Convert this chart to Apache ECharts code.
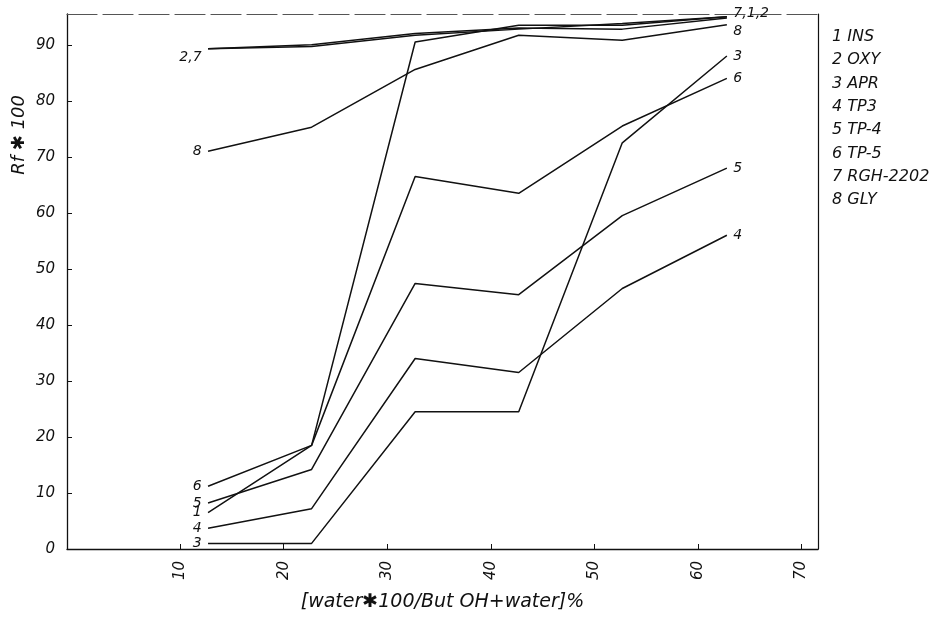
<!DOCTYPE html>
<html>
<head>
<meta charset="utf-8">
<script src="https://cdn.jsdelivr.net/npm/echarts@6/dist/echarts.min.js"></script>
<style>
  html, body { margin: 0; padding: 0; background: #fff; }
  #chart { width: 943px; height: 617px; }
</style>
</head>
<body>
<div id="chart"></div>
<script>
// Water content of the butanol/water eluent, % (x positions of the measured points)
const waterPct = [12.7, 22.7, 32.7, 42.7, 52.7, 62.8];

// Rf * 100 for each compound
const ins  = [6.5, 18.5, 90.5, 93.5, 93.5, 95.0];
const oxy  = [89.3, 90.0, 92.0, 93.0, 92.8, 94.8];
const apr  = [1.0, 1.0, 24.5, 24.5, 72.5, 88.0];
const tp3  = [3.7, 7.2, 34.0, 31.5, 46.5, 56.0];
const tp4  = [8.2, 14.2, 47.4, 45.4, 59.5, 68.0];
const tp5  = [11.2, 18.5, 66.5, 63.5, 75.5, 84.0];
const rgh  = [89.3, 89.7, 91.7, 92.8, 93.8, 95.0];
const gly  = [71.0, 75.3, 85.6, 91.7, 90.8, 93.6];

const compoundNames = ['1 INS', '2 OXY', '3 APR', '4 TP3', '5 TP-4', '6 TP-5', '7 RGH-2202', '8 GLY'];

// Curve numbers written at the start and end of each curve
const startTags = ['1', '', '3', '4', '5', '6', '2,7', '8'];
const endTags   = ['', '', '3', '4', '5', '6', '7,1,2', '8'];

const xTicks = [10, 20, 30, 40, 50, 60, 70];
const yTicks = [0, 10, 20, 30, 40, 50, 60, 70, 80, 90];

const FONT = 'DejaVu Sans';
const INK = '#111';

const chart = echarts.init(document.getElementById('chart'), null, { renderer: 'canvas' });

const curves = [ins, oxy, apr, tp3, tp4, tp5, rgh, gly];

// label tweaks for the tags so crowded ones sit clear of the lines
const startOffsets = { '2,7': [0, 9] };
const endOffsets = { '7,1,2': [0, -3], '8': [0, 7] };

function tagLabel(text, position, offset) {
  return {
    show: true,
    formatter: text,
    position: position,
    distance: 6,
    offset: offset || [0, 0],
    color: INK,
    fontFamily: FONT,
    fontStyle: 'italic',
    fontSize: 14
  };
}

const series = curves.map(function (vals, i) {
  const data = vals.map(function (v, k) {
    const item = { value: [waterPct[k], v] };
    if (k === 0 && startTags[i]) {
      item.label = tagLabel(startTags[i], 'left', startOffsets[startTags[i]]);
    }
    if (k === vals.length - 1 && endTags[i]) {
      item.label = tagLabel(endTags[i], 'right', endOffsets[endTags[i]]);
    }
    return item;
  });
  return {
    name: compoundNames[i],
    type: 'line',
    data: data,
    symbol: 'circle',
    symbolSize: 1,
    showSymbol: true,
    itemStyle: { color: 'rgba(0,0,0,0)' },
    lineStyle: { color: INK, width: 1.5 },
    label: { show: false },
    emphasis: { disabled: true },
    animation: false,
    z: 3
  };
});

// Legend of compound numbers at the right of the frame
const legendTexts = compoundNames.map(function (name, i) {
  return {
    type: 'text',
    left: 832,
    top: 29 + i * 23.3,
    style: {
      text: name,
      fill: INK,
      font: 'italic 16px "' + FONT + '"'
    }
  };
});

const option = {
  backgroundColor: '#fff',
  animation: false,
  grid: { left: 67, top: 14, right: 125, bottom: 61, containLabel: false },
  xAxis: [
    {
      type: 'value',
      min: -0.92,
      max: 71.6,
      position: 'bottom',
      splitLine: { show: false },
      axisLine: { show: true, onZero: false, lineStyle: { color: INK, width: 1.3 } },
      axisTick: { show: true, inside: true, length: 5, customValues: xTicks, lineStyle: { color: INK } },
      axisLabel: {
        customValues: xTicks,
        rotate: 90,
        margin: 12,
        color: INK,
        fontFamily: FONT,
        fontStyle: 'italic',
        fontSize: 15
      },
      name: '[water\u2731100/But OH+water]%',
      nameLocation: 'middle',
      nameGap: 44,
      nameTextStyle: { color: INK, fontFamily: FONT, fontStyle: 'italic', fontSize: 19 }
    },
    {
      type: 'value',
      min: -0.92,
      max: 71.6,
      position: 'top',
      splitLine: { show: false },
      axisLine: { show: true, onZero: false, lineStyle: { color: '#555', width: 1.2, type: [30, 6] } },
      axisTick: { show: false },
      axisLabel: { show: false }
    }
  ],
  yAxis: [
    {
      type: 'value',
      min: 0,
      max: 95.5,
      position: 'left',
      splitLine: { show: false },
      axisLine: { show: true, onZero: false, lineStyle: { color: INK, width: 1.3 } },
      axisTick: { show: true, inside: true, length: 5, customValues: yTicks, lineStyle: { color: INK } },
      axisLabel: {
        customValues: yTicks,
        margin: 12,
        color: INK,
        fontFamily: FONT,
        fontStyle: 'italic',
        fontSize: 15
      }
    },
    {
      type: 'value',
      min: 0,
      max: 95.5,
      position: 'right',
      splitLine: { show: false },
      axisLine: { show: true, onZero: false, lineStyle: { color: INK, width: 1.2 } },
      axisTick: { show: false },
      axisLabel: { show: false }
    }
  ],
  series: series,
  graphic: legendTexts.concat([
    {
      type: 'text',
      left: 10,
      top: 95,
      rotation: Math.PI / 2,
      style: {
        text: 'Rf \u2731 100',
        fill: INK,
        font: 'italic 18px "' + FONT + '"'
      }
    }
  ])
};

chart.setOption(option);
</script>
</body>
</html>
